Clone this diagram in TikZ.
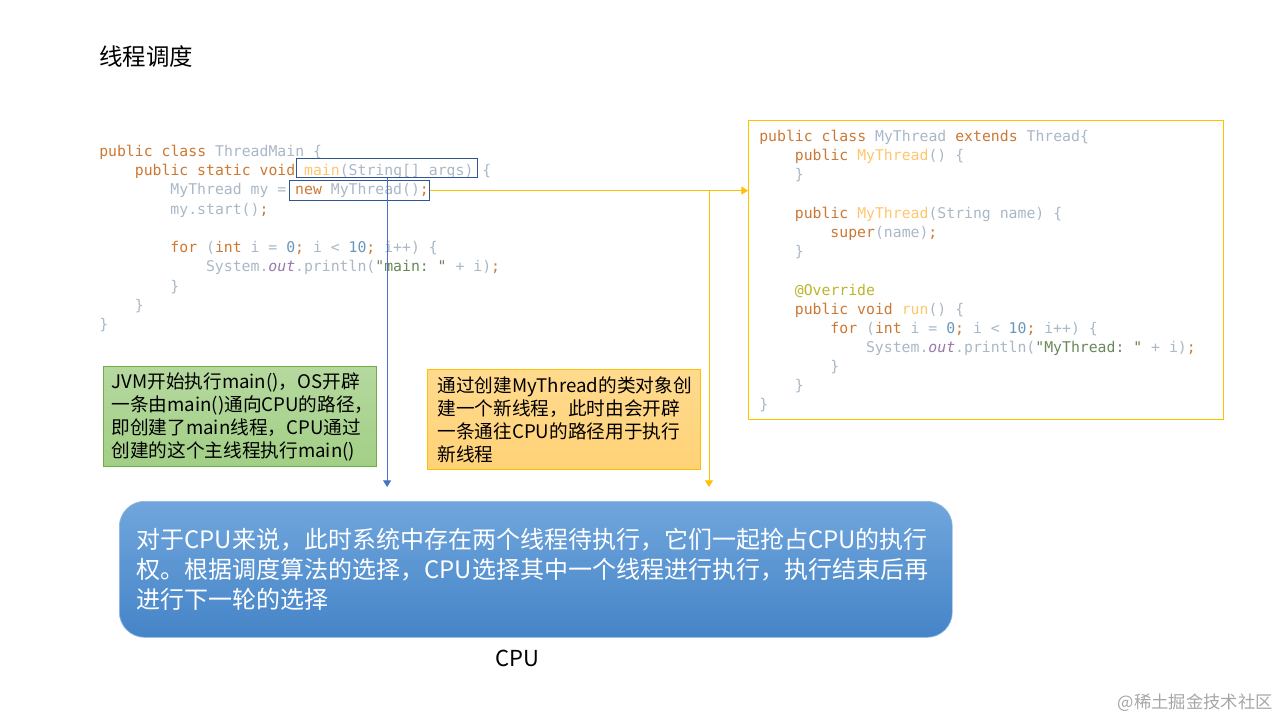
\documentclass[tikz,border=0pt]{standalone}
\usepackage{fontspec}
\setmainfont{Noto Sans CJK SC}
\setmonofont{DejaVu Sans Mono}
\usetikzlibrary{arrows.meta}
\definecolor{ckw}{HTML}{CC7832}
\definecolor{cid}{HTML}{A9B7C6}
\definecolor{cfn}{HTML}{FFC66D}
\definecolor{cnum}{HTML}{6897BB}
\definecolor{cstr}{HTML}{6A8759}
\definecolor{cout}{HTML}{9876AA}
\definecolor{cann}{HTML}{BBB529}
\definecolor{boxblue}{HTML}{2F5597}
\definecolor{lineblue}{HTML}{4472C4}
\definecolor{lineorange}{HTML}{FFC000}
\definecolor{greenborder}{HTML}{70AD47}
\definecolor{greentop}{HTML}{B5D89F}
\definecolor{greenbot}{HTML}{A2CF86}
\definecolor{orangetop}{HTML}{FFDA8E}
\definecolor{orangebot}{HTML}{FFD276}
\definecolor{cputop}{HTML}{70A6DC}
\definecolor{cpubot}{HTML}{4584C8}
\definecolor{wmgrey}{HTML}{A6A6A6}
\newcommand{\kw}[1]{{\color{ckw}#1}}
\newcommand{\id}[1]{{\color{cid}#1}}
\newcommand{\fn}[1]{{\color{cfn}#1}}
\newcommand{\nm}[1]{{\color{cnum}#1}}
\newcommand{\st}[1]{{\color{cstr}#1}}
\newcommand{\ot}[1]{{\color{cout}\itshape #1}}
\newcommand{\an}[1]{{\color{cann}#1}}
\begin{document}
\begin{tikzpicture}[x=0.75pt,y=-0.75pt,
  codeline/.style={anchor=base west,inner sep=0pt,yshift=-4.9pt,
    font=\ttfamily\fontsize{11.1}{13}\selectfont},
  hlbox/.style={draw=boxblue,line width=0.9pt,inner sep=0pt,anchor=north west},
  notebox/.style={anchor=north west,align=left,minimum width=204.75pt,minimum height=75pt,
    line width=0.75pt,font=\fontsize{14}{17.25}\selectfont},
  bluearrow/.style={draw=lineblue,line width=0.75pt,-{Triangle[width=6pt,length=5pt]}},
  orangearrow/.style={draw=lineorange,line width=0.75pt,-{Triangle[width=6pt,length=5pt]}}]
\useasboundingbox (0,0) rectangle (1280,720);

% title
\node[anchor=west,inner sep=0pt,font=\fontsize{17.6}{20}\selectfont] (title) at (99,57) {线程调度};

% left code
\node[codeline] (l1) at (99,150) {\kw{public class} \id{ThreadMain \{}};
\node[codeline] (l2) at (134.6,169) {\kw{public static void} \fn{main}\id{(String[] args) \{}};
\node[codeline] (l3) at (170.2,188) {\id{MyThread my =} \kw{new} \id{MyThread()}\kw{;}};
\node[codeline] (l4) at (170.2,208) {\id{my.start()}\kw{;}};
\node[codeline] (l5) at (170.2,246) {\kw{for} \id{(}\kw{int} \id{i =} \nm{0}\kw{;} \id{i <} \nm{10}\kw{;} \id{i++) \{}};
\node[codeline] (l6) at (205.8,265) {\id{System.}\ot{out}\id{.println(}\st{"main: "} \id{+ i)}\kw{;}};
\node[codeline] (l7) at (170.2,285) {\id{\}}};
\node[codeline] (l8) at (134.6,304) {\id{\}}};
\node[codeline] (l9) at (99,323) {\id{\}}};

% highlight boxes
\node[hlbox,minimum width=135.75pt,minimum height=14.25pt] (mainbox) at (296,158) {};
\node[hlbox,minimum width=105pt,minimum height=15pt] (newbox) at (289,180) {};

% right code box
\node[draw=lineorange,line width=0.75pt,inner sep=0pt,anchor=north west,
  minimum width=356.25pt,minimum height=224.25pt] (codebox) at (748,120) {};
\node[codeline] (r1) at (759,135) {\kw{public class} \id{MyThread} \kw{extends} \id{Thread\{}};
\node[codeline] (r2) at (794.6,154) {\kw{public} \fn{MyThread}\id{() \{}};
\node[codeline] (r3) at (794.6,173) {\id{\}}};
\node[codeline] (r4) at (794.6,212) {\kw{public} \fn{MyThread}\id{(String name) \{}};
\node[codeline] (r5) at (830.2,231) {\kw{super}\id{(name)}\kw{;}};
\node[codeline] (r6) at (794.6,250) {\id{\}}};
\node[codeline] (r7) at (794.6,289) {\an{@Override}};
\node[codeline] (r8) at (794.6,308) {\kw{public void} \fn{run}\id{() \{}};
\node[codeline] (r9) at (830.2,327) {\kw{for} \id{(}\kw{int} \id{i =} \nm{0}\kw{;} \id{i <} \nm{10}\kw{;} \id{i++) \{}};
\node[codeline] (r10) at (865.8,346) {\id{System.}\ot{out}\id{.println(}\st{"MyThread: "} \id{+ i)}\kw{;}};
\node[codeline] (r11) at (830.2,365) {\id{\}}};
\node[codeline] (r12) at (794.6,384) {\id{\}}};
\node[codeline] (r13) at (759,403) {\id{\}}};

% note boxes
\node[notebox,draw=greenborder,top color=greentop,bottom color=greenbot,
  text width=192.75pt,inner xsep=6pt] (green) at (103,366)
  {JVM开始执行main()，OS开辟\\一条由main()通向CPU的路径，\\即创建了main线程，CPU通过\\创建的这个主线程执行main()};
\node[notebox,draw=lineorange,top color=orangetop,bottom color=orangebot,
  text width=189.75pt,inner xsep=7.5pt] (orange) at (427,369)
  {通过创建MyThread的类对象创\\建一个新线程，此时由会开辟\\一条通往CPU的路径用于执行\\新线程};

% CPU box
\node[anchor=north west,rounded corners=19pt,top color=cputop,bottom color=cpubot,
  draw=cputop!80!white,line width=0.5pt,
  minimum width=624.75pt,minimum height=102pt,text width=599.25pt,inner xsep=12.75pt,
  align=left,text=white,font=\fontsize{18}{22.5}\selectfont] (cpu) at (119,501)
  {对于CPU来说，此时系统中存在两个线程待执行，它们一起抢占CPU的执行\\权。根据调度算法的选择，CPU选择其中一个线程进行执行，执行结束后再\\进行下一轮的选择};
\node[font=\fontsize{16.5}{19}\selectfont,inner sep=0pt] (cpulabel) at (517,658) {CPU};

% connectors
\coordinate (bluetip) at (385,487);
\coordinate (branch) at (709,189);
\coordinate (orangetip) at (709,487);
\draw[bluearrow] (mainbox.south) -- (mainbox.south |- bluetip);
\draw[orangearrow] (newbox.east) -- (codebox.west |- newbox.east);
\draw[orangearrow] (branch |- newbox.east) -- (orangetip);

% watermark
\node[anchor=east,inner sep=0pt,text=wmgrey,font=\fontsize{13}{15}\selectfont] (wm) at (1273,703) {@稀土掘金技术社区};
\end{tikzpicture}
\end{document}
